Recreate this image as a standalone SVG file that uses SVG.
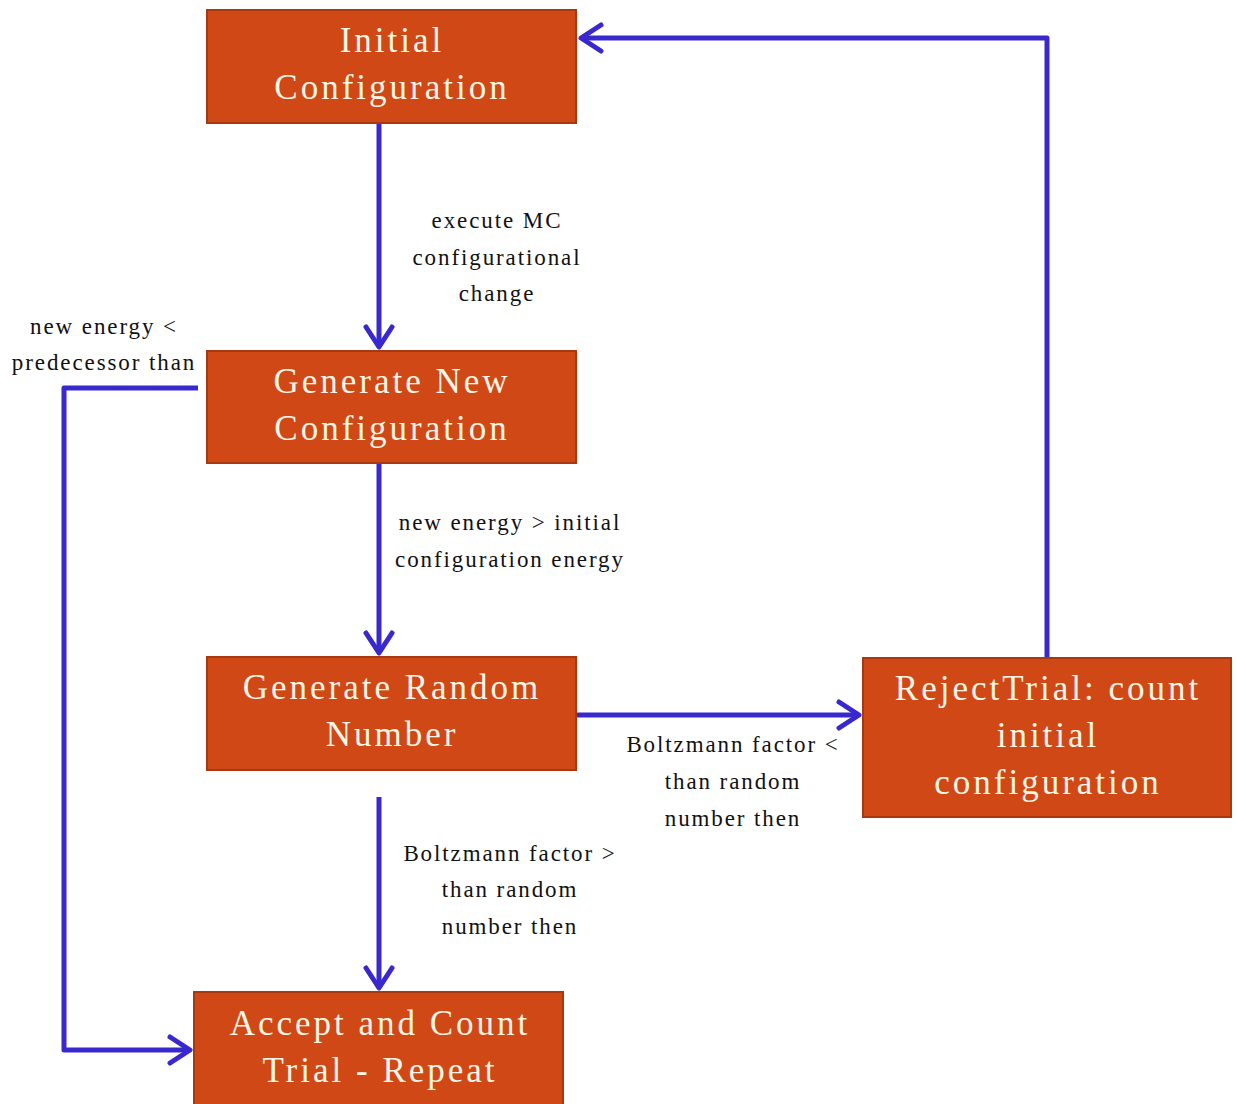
<svg xmlns="http://www.w3.org/2000/svg" width="1237" height="1104" viewBox="0 0 1237 1104">
<style>
.box{fill:#D04816;stroke:#A8390F;stroke-width:2}
.bt{font-family:"Liberation Serif","DejaVu Serif",serif;font-size:35px;letter-spacing:3px;fill:#FFF6E6;text-anchor:middle}
.lb{font-family:"Liberation Serif","DejaVu Serif",serif;font-size:23px;letter-spacing:1.9px;fill:#111;text-anchor:middle}
.cn{fill:none;stroke:#3A28CF;stroke-width:5;stroke-linejoin:round}
</style>
<defs>
<marker id="ah" markerUnits="userSpaceOnUse" viewBox="-30 -20 40 40" markerWidth="40" markerHeight="40" refX="0" refY="0" orient="auto">
<path d="M-20,-13 L0,0 L-20,13" fill="none" stroke="#3A28CF" stroke-width="5" stroke-linecap="round" stroke-linejoin="round"/>
</marker>
</defs>
<rect width="1237" height="1104" fill="#fff"/>
<g id="connectors">
<path class="cn" d="M379,123 L379,347" marker-end="url(#ah)"/>
<path class="cn" d="M379,463 L379,653" marker-end="url(#ah)"/>
<path class="cn" d="M576,715 L859,715" marker-end="url(#ah)"/>
<path class="cn" d="M379,797 L379,988" marker-end="url(#ah)"/>
<path class="cn" d="M1047,658 L1047,38 L581,38" marker-end="url(#ah)"/>
<path class="cn" d="M198,388 L64,388 L64,1050 L190,1050" marker-end="url(#ah)"/>
</g>
<g id="labels">
<text class="lb" x="497" y="228">execute MC</text>
<text class="lb" x="497" y="265">configurational</text>
<text class="lb" x="497" y="301">change</text>
<text class="lb" x="104" y="334">new energy &lt;</text>
<text class="lb" x="104" y="370">predecessor than</text>
<text class="lb" x="510" y="530">new energy &gt; initial</text>
<text class="lb" x="510" y="567">configuration energy</text>
<text class="lb" x="733" y="752">Boltzmann factor &lt;</text>
<text class="lb" x="733" y="789">than random</text>
<text class="lb" x="733" y="826">number then</text>
<text class="lb" x="510" y="861">Boltzmann factor &gt;</text>
<text class="lb" x="510" y="897">than random</text>
<text class="lb" x="510" y="934">number then</text>
</g>
<g id="initial">
<rect class="box" x="207" y="10" width="369" height="113"/>
<text class="bt" x="392" y="52">Initial</text>
<text class="bt" x="392" y="99">Configuration</text>
</g>
<g id="generate-new">
<rect class="box" x="207" y="351" width="369" height="112"/>
<text class="bt" x="392" y="393">Generate New</text>
<text class="bt" x="392" y="440">Configuration</text>
</g>
<g id="generate-random">
<rect class="box" x="207" y="657" width="369" height="113"/>
<text class="bt" x="392" y="699">Generate Random</text>
<text class="bt" x="392" y="746">Number</text>
</g>
<g id="reject">
<rect class="box" x="863" y="658" width="368" height="159"/>
<text class="bt" x="1048" y="700">RejectTrial: count</text>
<text class="bt" x="1048" y="747">initial</text>
<text class="bt" x="1048" y="794">configuration</text>
</g>
<g id="accept">
<rect class="box" x="194" y="992" width="369" height="120"/>
<text class="bt" x="380" y="1035">Accept and Count</text>
<text class="bt" x="380" y="1082">Trial - Repeat</text>
</g>
</svg>
